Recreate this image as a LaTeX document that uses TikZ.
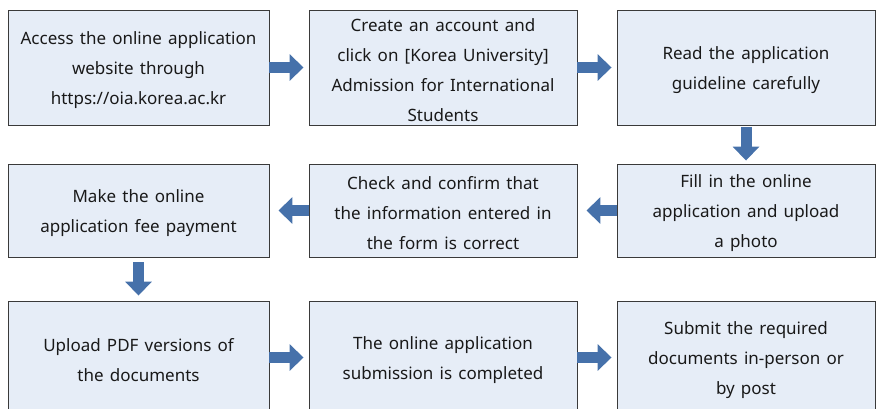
\documentclass[tikz,border=0pt]{standalone}
\usepackage{fontspec}
\setmainfont{Noto Sans}[WordSpace=1.4]
\usetikzlibrary{arrows.meta}
\definecolor{boxfill}{HTML}{E6EDF7}
\definecolor{boxline}{HTML}{3A3A3A}
\definecolor{arrowblue}{HTML}{4671AA}
\tikzset{
  stepbox/.style={draw=boxline, line width=0.9pt, fill=boxfill, inner sep=0pt},
  steptext/.style={align=center, inner sep=0pt, font=\fontsize{17}{30}\selectfont, text=black!90},
  flow/.style={draw=arrowblue, line width=11pt, -{Triangle[length=14pt,width=26pt]}},
}
\begin{document}
\begin{tikzpicture}[x=1pt,y=-1pt]
\useasboundingbox (0,0) rectangle (876,408);
\clip (0,0) rectangle (876,408);
% row 1
\node[stepbox, minimum width=261, minimum height=115] (b1) at (138.5,67.5) {};
\node[stepbox, minimum width=268, minimum height=115] (b2) at (443,67.5) {};
\node[stepbox, minimum width=258, minimum height=115] (b3) at (746,67.5) {};
% row 2
\node[stepbox, minimum width=258, minimum height=93] (b4) at (746,210.5) {};
\node[stepbox, minimum width=268, minimum height=93] (b5) at (443,210.5) {};
\node[stepbox, minimum width=261, minimum height=93] (b6) at (138.5,210.5) {};
% row 3
\node[stepbox, minimum width=261, minimum height=113] (b7) at (138.5,357.5) {};
\node[stepbox, minimum width=268, minimum height=113] (b8) at (443,357.5) {};
\node[stepbox, minimum width=258, minimum height=113] (b9) at (746,357.5) {};
% texts
\node[steptext] (t1) at ([yshift=-3pt]b1.center) {Access the online application\\website through\\https://oia.korea.ac.kr};
\node[steptext] (t2) at ([yshift=-3pt]b2.center) {Create an account and\\click on [Korea University]\\Admission for International\\Students};
\node[steptext] (t3) at ([yshift=-3pt]b3.center) {Read the application\\guideline carefully};
\node[steptext] (t4) at ([yshift=-3pt]b4.center) {Fill in the online\\application and upload\\a photo};
\node[steptext] (t5) at ([yshift=-3pt]b5.center) {Check and confirm that\\the information entered in\\the form is correct};
\node[steptext] (t6) at ([yshift=-3pt]b6.center) {Make the online\\application fee payment};
\node[steptext] (t7) at ([yshift=-3pt]b7.center) {Upload PDF versions of\\the documents};
\node[steptext] (t8) at ([yshift=-3pt]b8.center) {The online application\\submission is completed};
\node[steptext] (t9) at ([yshift=-3pt]b9.center) {Submit the required\\documents in-person or\\by post};
% connectors
\draw[flow] (b1.east) -- ([xshift=-5pt]b2.west);
\draw[flow] (b2.east) -- ([xshift=-5pt]b3.west);
\draw[flow] ([yshift=-2pt]b3.south) -- ([yshift=3pt]b4.north);
\draw[flow] (b4.west) -- ([xshift=9pt]b5.east);
\draw[flow] (b5.west) -- ([xshift=9pt]b6.east);
\draw[flow] ([yshift=-5pt]b6.south) -- ([yshift=5pt]b7.north);
\draw[flow] (b7.east) -- ([xshift=-5pt]b8.west);
\draw[flow] (b8.east) -- ([xshift=-5pt]b9.west);
\end{tikzpicture}
\end{document}
